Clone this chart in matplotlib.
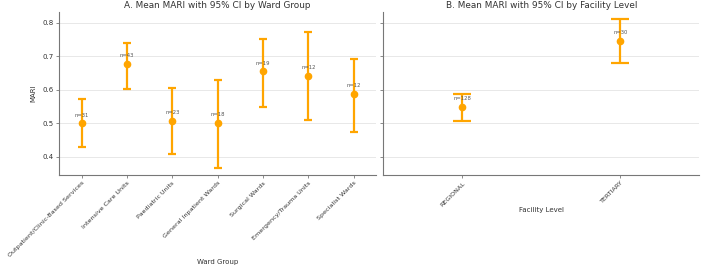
import matplotlib
matplotlib.use("Agg")
import matplotlib.pyplot as plt

wards = ["Outpatient/Clinic-Based Services", "Intensive Care Units", "Paediatric Units",
         "General Inpatient Wards", "Surgical Wards", "Emergency/Trauma Units", "Specialist Wards"]
ward_mean = [0.500, 0.677, 0.507, 0.502, 0.655, 0.642, 0.587]
ward_lo = [0.430, 0.604, 0.408, 0.366, 0.550, 0.510, 0.473]
ward_hi = [0.574, 0.740, 0.605, 0.631, 0.753, 0.774, 0.693]
ward_n = [31, 43, 23, 18, 19, 12, 12]

levels = ["REGIONAL", "TERTIARY"]
level_mean = [0.548, 0.745]
level_lo = [0.507, 0.681]
level_hi = [0.587, 0.812]
level_n = [128, 30]

col = "#FFA500"
txt = "#333333"

fig = plt.figure(figsize=(7.02, 2.7), dpi=100)
ax1 = fig.add_axes([0.084, 0.352, 0.452, 0.604])
ax2 = fig.add_axes([0.546, 0.352, 0.450, 0.604], sharey=ax1)


def draw(ax, cats, mean, lo, hi, n, cap):
    x = list(range(len(cats)))
    err = [[m - l for m, l in zip(mean, lo)], [h - m for m, h in zip(mean, hi)]]
    ax.errorbar(x, mean, yerr=err, fmt="o", color=col, ecolor=col, elinewidth=1.6,
                capsize=cap, capthick=1.6, markersize=4.5, zorder=3)
    for xi, m, k in zip(x, mean, n):
        ax.text(xi, m + 0.025, f"n={k}", ha="center", va="center", fontsize=3.8, color="#555555")
    ax.set_xticks(x)
    ax.set_xticklabels(cats, rotation=45, ha="right", rotation_mode="anchor", fontsize=4.6, color=txt)
    ax.set_xlim(-0.5, len(cats) - 0.5)
    ax.grid(axis="y", color="#e8e8e8", linewidth=0.7)
    ax.set_axisbelow(True)
    for s in ["top", "right"]:
        ax.spines[s].set_visible(False)
    for s in ["left", "bottom"]:
        ax.spines[s].set_color("#777777")
        ax.spines[s].set_linewidth(0.8)
    ax.tick_params(colors="#777777", labelcolor=txt, length=2, width=0.6, labelsize=4.6, pad=2)


draw(ax1, wards, ward_mean, ward_lo, ward_hi, ward_n, 3)
draw(ax2, levels, level_mean, level_lo, level_hi, level_n, 6.5)

ax1.set_ylim(0.346, 0.833)
ax1.set_yticks([0.4, 0.5, 0.6, 0.7, 0.8])
ax1.tick_params(axis="y", labelsize=5)
ax2.tick_params(labelleft=False)

ax1.set_title("A. Mean MARI with 95% CI by Ward Group", fontsize=6.4, color=txt, pad=3)
ax2.set_title("B. Mean MARI with 95% CI by Facility Level", fontsize=6.4, color=txt, pad=3)
ax1.set_ylabel("MARI", fontsize=5, color=txt)
ax1.set_xlabel("Ward Group", fontsize=5, color=txt)
ax2.set_xlabel("Facility Level", fontsize=5, color=txt)
ax1.xaxis.set_label_coords(0.5, -0.515)
ax2.xaxis.set_label_coords(0.5, -0.196)

fig.savefig("out.png", dpi=100)
